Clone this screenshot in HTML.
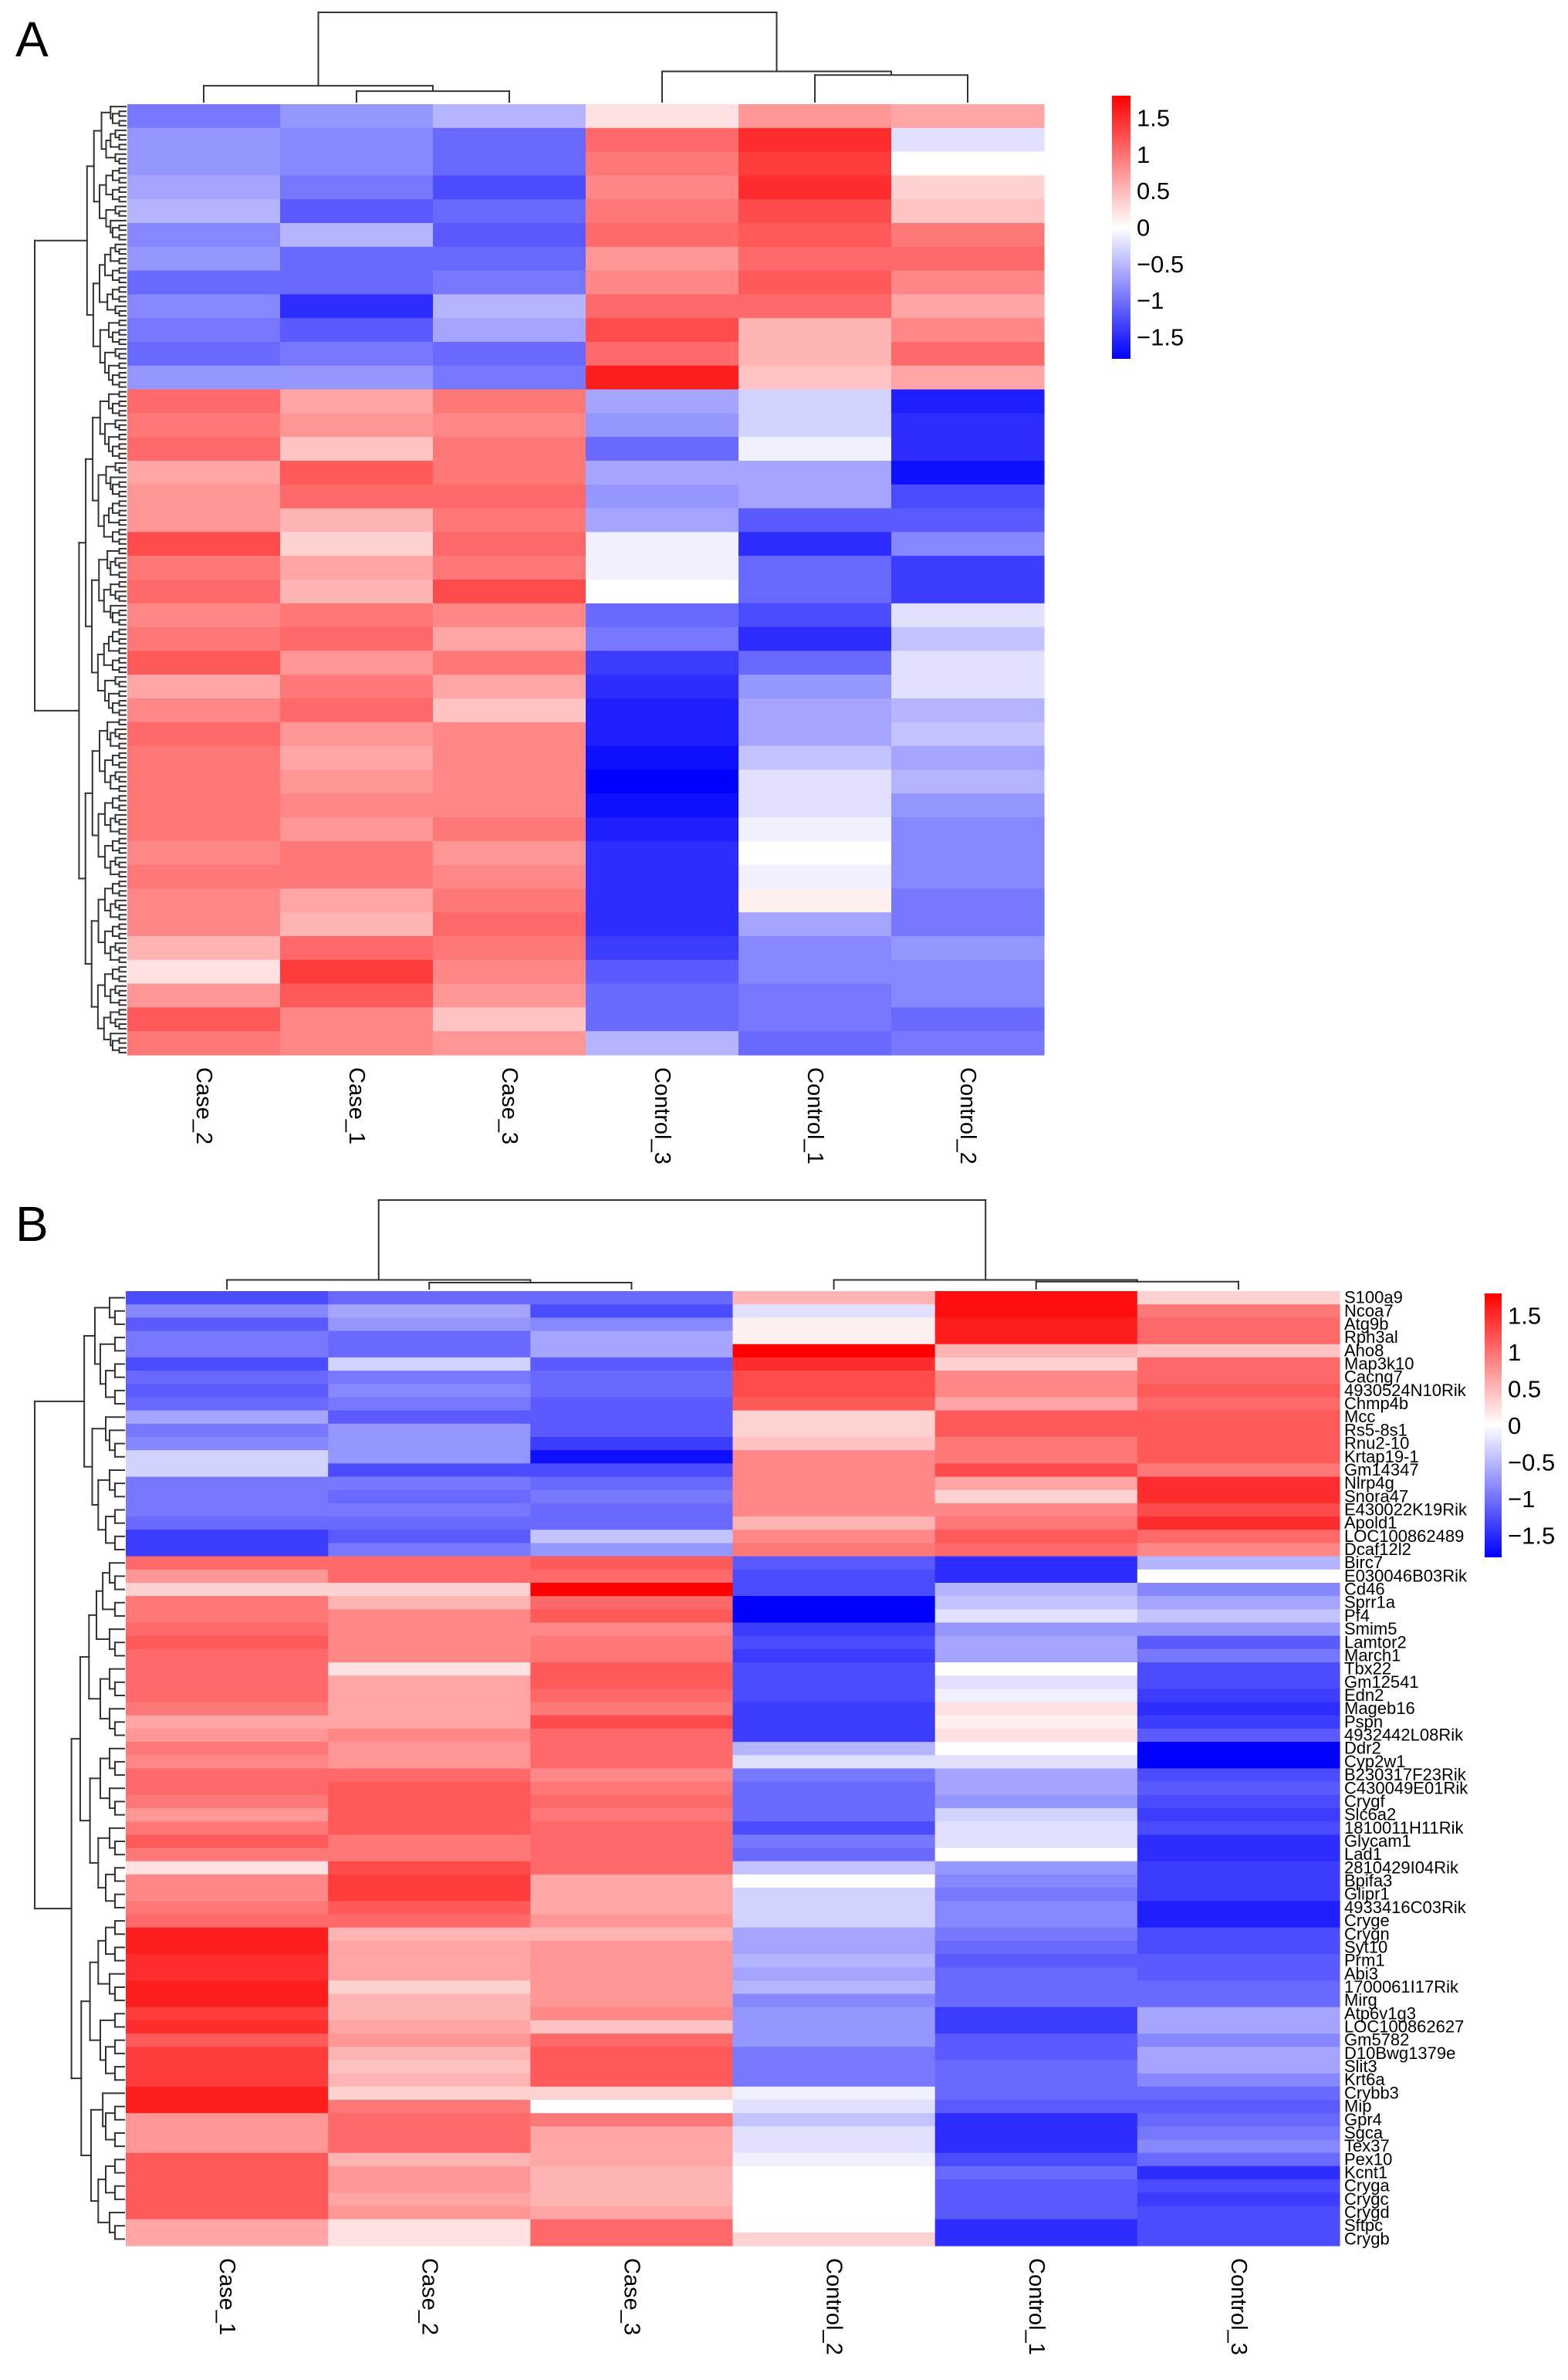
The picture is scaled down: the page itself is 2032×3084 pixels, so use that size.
<!DOCTYPE html>
<html><head><meta charset="utf-8">
<style>
html,body{margin:0;padding:0;background:#fff;}
svg{display:block;font-family:"Liberation Sans",Arial,sans-serif;}
</style></head>
<body>
<svg id="fig" width="2032" height="3084" viewBox="0 0 2032 3084" xmlns="http://www.w3.org/2000/svg">
<rect width="2032" height="3084" fill="#fff"/>
<text x="20" y="73" font-size="64">A</text>
<text x="20" y="1608" font-size="64">B</text>
<g id="panelA"></g>
<g id="panelB"></g>
</svg>
<script>
// ---------- Panel A data ----------
const colsA = ["Case_2","Case_1","Case_3","Control_3","Control_1","Control_2"];
const bandsA_case2 = [-0.9,-0.7,-0.7,-0.6,-0.5,-0.8,-0.7,-1.0,-0.8,-0.9,-1.0,-0.7,1.0,0.9,1.0,0.6,0.7,0.7,1.2,0.9,1.0,0.8,0.9,1.1,0.6,0.8,1.0,0.9,0.9,0.9,0.9,0.8,0.9,0.8,0.8,0.5,0.2,0.7,1.1,0.9];
const bandsA_case1 = [-0.7,-0.8,-0.8,-0.9,-1.1,-0.5,-1.0,-1.0,-1.4,-1.1,-0.9,-0.7,0.6,0.7,0.4,1.1,1.0,0.5,0.3,0.6,0.5,0.9,1.0,0.7,0.9,1.0,0.7,0.6,0.7,0.8,0.7,0.9,0.9,0.6,0.5,1.0,1.3,1.1,0.8,0.8];
const bandsA_case3 = [-0.5,-1.0,-1.0,-1.2,-1.0,-1.1,-1.0,-0.9,-0.5,-0.6,-1.0,-0.9,0.9,0.8,0.9,0.9,1.0,0.9,1.0,0.9,1.2,0.8,0.6,0.9,0.6,0.4,0.8,0.8,0.8,0.8,0.9,0.7,0.8,0.9,1.0,0.9,0.8,0.7,0.4,0.7];
const bandsA_ctrl3 = [0.2,1.0,0.9,0.8,0.9,1.0,0.7,0.8,1.0,1.2,1.0,1.5,-0.6,-0.7,-1.0,-0.6,-0.7,-0.6,-0.1,-0.1,0.0,-1.0,-0.9,-1.3,-1.4,-1.5,-1.5,-1.6,-1.7,-1.6,-1.5,-1.4,-1.4,-1.4,-1.4,-1.3,-1.1,-1.0,-1.0,-0.5];
const bandsA_ctrl1 = [0.7,1.4,1.3,1.4,1.2,1.1,1.0,1.1,1.0,0.5,0.5,0.4,-0.3,-0.3,-0.1,-0.6,-0.6,-1.1,-1.4,-1.0,-1.0,-1.2,-1.4,-1.0,-0.7,-0.6,-0.6,-0.4,-0.2,-0.2,-0.1,0.0,-0.1,0.1,-0.6,-0.8,-0.8,-0.9,-0.9,-1.0];
const bandsA_ctrl2 = [0.6,-0.2,0.0,0.3,0.4,0.9,1.0,0.8,0.6,0.8,1.0,0.6,-1.5,-1.4,-1.4,-1.6,-1.2,-1.1,-0.8,-1.3,-1.3,-0.2,-0.4,-0.2,-0.2,-0.5,-0.4,-0.6,-0.5,-0.7,-0.8,-0.8,-0.8,-0.9,-0.9,-0.7,-0.8,-0.8,-1.0,-0.9];
const topBandsA = 12;
const legendTicks = [1.5,1,0.5,0,-0.5,-1,-1.5];
const legendTickLabels = ["1.5","1","0.5","0","\u22120.5","\u22121","\u22121.5"];
const mergesA = [[1,2,0.12],[0,"m0",0.18],[4,5,0.30],[3,"m2",0.34],["m1","m3",1.0]];

// ---------- Panel B data ----------
const colsB = ["Case_1","Case_2","Case_3","Control_2","Control_1","Control_3"];
const genesB = ["S100a9","Ncoa7","Atg9b","Rph3al","Aho8","Map3k10","Cacng7","4930524N10Rik","Chmp4b","Mcc","Rs5-8s1","Rnu2-10","Krtap19-1","Gm14347","Nlrp4g","Snora47","E430022K19Rik","Apold1","LOC100862489","Dcaf12l2","Birc7","E030046B03Rik","Cd46","Sprr1a","Pf4","Smim5","Lamtor2","March1","Tbx22","Gm12541","Edn2","Mageb16","Pspn","4932442L08Rik","Ddr2","Cyp2w1","B230317F23Rik","C430049E01Rik","Crygf","Slc6a2","1810011H11Rik","Glycam1","Lad1","2810429I04Rik","Bpifa3","Glipr1","4933416C03Rik","Cryge","Crygn","Syt10","Prm1","Abi3","1700061I17Rik","Mirg","Atp6v1g3","LOC100862627","Gm5782","D10Bwg1379e","Slit3","Krt6a","Crybb3","Mip","Gpr4","Sgca","Tex37","Pex10","Kcnt1","Cryga","Crygc","Crygd","Sftpc","Crygb"];
const valsB_case1 = [-1.2,-0.8,-1.1,-0.9,-0.9,-1.2,-1.0,-1.1,-1.0,-0.6,-0.9,-0.8,-0.3,-0.3,-0.9,-0.9,-0.9,-1.0,-1.3,-1.3,1.0,0.7,0.3,0.9,0.9,1.0,1.1,1.0,1.0,1.0,1.0,0.9,0.6,0.7,0.9,0.8,1.0,1.0,0.9,0.7,0.9,1.1,0.9,0.2,0.8,0.8,0.9,1.0,1.5,1.5,1.4,1.4,1.5,1.5,1.3,1.4,1.1,1.3,1.3,1.3,1.5,1.5,0.7,0.7,0.7,1.1,1.1,1.1,1.1,1.1,0.6,0.6];
const valsB_case2 = [-1.0,-0.6,-0.7,-1.0,-1.0,-0.3,-0.9,-0.8,-0.9,-1.1,-0.7,-0.7,-0.7,-1.2,-0.9,-1.0,-0.9,-1.0,-1.1,-0.9,1.0,1.0,0.3,0.5,0.8,0.8,0.8,0.8,0.2,0.6,0.6,0.6,0.6,0.8,0.7,0.7,1.0,1.1,1.1,1.1,1.1,0.9,0.9,1.2,1.3,1.3,1.1,1.0,0.5,0.6,0.6,0.6,0.3,0.5,0.5,0.6,0.7,0.5,0.4,0.5,0.3,0.9,1.0,1.0,1.0,0.5,0.7,0.7,0.6,0.7,0.2,0.2];
const valsB_case3 = [-1.0,-1.2,-0.8,-0.6,-0.6,-1.1,-1.0,-1.0,-1.1,-1.1,-1.1,-1.3,-1.6,-1.2,-1.0,-0.9,-1.0,-1.0,-0.4,-0.7,1.1,1.0,1.7,1.0,1.1,0.8,0.9,0.9,1.1,1.1,1.0,0.9,1.2,1.0,1.0,1.0,0.8,0.9,1.0,0.9,1.0,1.0,1.0,1.0,0.6,0.6,0.6,0.7,0.5,0.7,0.7,0.7,0.7,0.7,0.8,0.4,1.0,1.1,1.1,1.1,0.3,0.0,0.9,0.6,0.6,0.6,0.5,0.5,0.5,0.6,1.0,1.0];
const valsB_ctrl2 = [0.5,-0.2,0.1,0.1,1.7,1.4,1.2,1.2,1.1,0.3,0.3,0.4,0.8,0.8,0.8,0.8,0.8,0.5,0.8,0.9,-1.1,-1.2,-1.2,-1.7,-1.7,-1.3,-1.2,-1.3,-1.2,-1.2,-1.2,-1.3,-1.3,-1.3,-0.5,-0.2,-0.9,-1.0,-1.0,-1.0,-1.2,-0.9,-1.0,-0.4,0.0,-0.3,-0.3,-0.3,-0.6,-0.6,-0.5,-0.6,-0.5,-0.8,-0.7,-0.7,-0.7,-0.9,-0.9,-0.9,-0.1,-0.2,-0.4,-0.2,-0.2,-0.1,0.0,0.0,0.0,0.0,0.0,0.3];
const valsB_ctrl1 = [1.6,1.6,1.5,1.5,0.5,0.3,0.8,0.8,0.6,1.1,1.1,0.9,0.9,1.2,0.6,0.3,0.8,0.9,1.1,1.0,-1.4,-1.4,-0.5,-0.4,-0.2,-0.7,-0.6,-0.6,0.0,-0.2,-0.1,0.2,0.1,0.2,0.0,-0.2,-0.6,-0.6,-0.7,-0.3,-0.2,-0.2,0.0,-0.7,-0.8,-0.9,-0.8,-0.8,-0.9,-1.0,-1.1,-1.0,-1.0,-1.0,-1.3,-1.3,-1.1,-1.1,-1.0,-1.0,-1.0,-1.1,-1.4,-1.4,-1.4,-1.2,-1.0,-1.1,-1.1,-1.1,-1.4,-1.4];
const valsB_ctrl3 = [0.3,0.9,1.0,1.0,0.4,1.0,1.0,1.1,1.0,1.1,1.1,1.1,1.1,0.9,1.4,1.4,1.2,1.4,1.0,0.8,-0.5,0.0,-0.8,-0.6,-0.4,-0.7,-1.1,-0.9,-1.2,-1.2,-1.3,-1.4,-1.3,-1.1,-1.7,-1.7,-1.2,-1.1,-1.2,-1.3,-1.2,-1.4,-1.4,-1.3,-1.3,-1.3,-1.5,-1.5,-1.2,-1.2,-1.1,-1.1,-1.0,-1.0,-0.6,-0.6,-0.8,-0.6,-0.6,-0.8,-1.0,-1.1,-1.0,-0.9,-0.8,-1.0,-1.4,-1.2,-1.3,-1.2,-1.2,-1.2];
const topRowsB = 20;
const mergesB = [[4,5,0.08],[3,"m0",0.10],[1,2,0.07],[0,"m2",0.10],["m3","m1",1.0]];

const NS = "http://www.w3.org/2000/svg";
const VMAX = 1.7;
function color(v){
  let t = Math.max(-1, Math.min(1, v / VMAX));
  if (t >= 0) { const c = Math.round(255*(1-t)); return `rgb(255,${c},${c})`; }
  const c = Math.round(255*(1+t)); return `rgb(${c},${c},255)`;
}
function mk(tag, attrs, parent){
  const e = document.createElementNS(NS, tag);
  for (const k in attrs) e.setAttribute(k, attrs[k]);
  parent.appendChild(e); return e;
}
function line(g, x1,y1,x2,y2){
  const l = mk("line",{x1,y1,x2,y2,stroke:"#333","stroke-width":2,"stroke-linecap":"square"},g);
  
  
}

function drawPanel(root, cfg){
  const {x0, y0, w, h, cols, series, nRows, topRows, rowNames} = cfg;
  const cw = w / cols.length, rh = h / nRows;
  const xScale = i => x0 + i*cw;
  const yScale = r => y0 + r*rh;
  const cells = mk("g",{},root);
  
  
  series.forEach((arr, ci) => {
    arr.forEach((v, ri) => {
      const r = mk("rect",{x:xScale(ci).toFixed(2), y:yScale(ri).toFixed(2), width:(cw+0.6).toFixed(2), height:(rh+0.6).toFixed(2), fill:color(v)}, cells);
      
      
    });
  });
  cols.forEach((c, ci) => {
    const cx = xScale(ci) + cw/2;
    const t = mk("text",{x:0,y:0,"font-size":29,"dominant-baseline":"central",transform:`translate(${cx},${y0+h+16}) rotate(90)`}, root);
    t.textContent = c;
    
    
  });
  if (rowNames) {
    rowNames.forEach((n, ri) => {
      const t = mk("text",{x:x0+w+6, y:(yScale(ri)+rh/2+7).toFixed(1), "font-size":22}, root);
      t.textContent = n;
      
      
    });
  }
  const dg = mk("g",{},root);
  
  
  const nodes = {};
  const base = y0 - 3;
  const getNode = k => typeof k === "number" ? {x: xScale(k)+cw/2, y: base} : nodes[k];
  cfg.merges.forEach((m, i) => {
    const a = getNode(m[0]), b = getNode(m[1]);
    const y = base - m[2]*(base - cfg.rootY);
    line(dg, a.x, a.y, a.x, y); line(dg, b.x, b.y, b.x, y); line(dg, a.x, y, b.x, y);
    nodes["m"+i] = {x:(a.x+b.x)/2, y};
  });
  const lg = mk("g",{},root);
  
  
  const nL = cfg.leaves, lh = h / nL;
  const tip = x0 - 2;
  const split = Math.round(nL * topRows / nRows);
  function build(lo, hi){
    if (hi - lo === 1) return {x: tip, y: y0 + (lo+0.5)*lh};
    const mid = Math.floor((lo+hi)/2 + ((lo*7+hi*3)%3 - 1) * Math.min(1,(hi-lo-2)/4));
    const m = Math.max(lo+1, Math.min(hi-1, mid));
    const a = build(lo, m), b = build(m, hi);
    const x = tip - cfg.k*Math.log2(hi-lo);
    line(lg, x, a.y, a.x, a.y); line(lg, x, b.y, b.x, b.y); line(lg, x, a.y, x, b.y);
    return {x, y:(a.y+b.y)/2};
  }
  const A = build(0, split), B = build(split, nL);
  const rx = cfg.rootX;
  line(lg, rx, A.y, A.x, A.y); line(lg, rx, B.y, B.x, B.y); line(lg, rx, A.y, rx, B.y);
  const lgd = mk("g",{},root);
  
  
  const L = cfg.legend;
  const gid = "grad"+cfg.id;
  const defs = mk("defs",{},lgd);
  const gr = mk("linearGradient",{id:gid,x1:0,y1:0,x2:0,y2:1},defs);
  [1,0.5,0,-0.5,-1].forEach((f,i)=>mk("stop",{offset:(i*25)+"%","stop-color":color(f*VMAX)},gr));
  const bar = mk("rect",{x:L.x,y:L.y,width:L.w,height:L.h,fill:`url(#${gid})`},lgd);
  
  
  const cy = L.y + L.h/2, per = (L.h/2)/1.8;
  legendTicks.forEach((v,i)=>{
    const t = mk("text",{x:L.x+L.w+8, y:(cy - v*per + 11).toFixed(1), "font-size":31}, lgd);
    t.textContent = legendTickLabels[i];
    
    
  });
}

drawPanel(document.getElementById("panelA"), {
  id:"A", x0:165, y0:135, w:1188, h:1232, cols:colsA,
  series:[bandsA_case2,bandsA_case1,bandsA_case3,bandsA_ctrl3,bandsA_ctrl1,bandsA_ctrl2],
  nRows:bandsA_case2.length, topRows:topBandsA, rowNames:null,
  merges:mergesA, rootY:16, leaves:200, k:8.5, rootX:45,
  legend:{x:1441,y:124,w:24,h:341}
});
drawPanel(document.getElementById("panelB"), {
  id:"B", x0:163, y0:1673, w:1573, h:1237, cols:colsB,
  series:[valsB_case1,valsB_case2,valsB_case3,valsB_ctrl2,valsB_ctrl1,valsB_ctrl3],
  nRows:genesB.length, topRows:topRowsB, rowNames:genesB,
  merges:mergesB, rootY:1555, leaves:genesB.length, k:12, rootX:45,
  legend:{x:1924,y:1676,w:22,h:342}
});
</script>
</body></html>
